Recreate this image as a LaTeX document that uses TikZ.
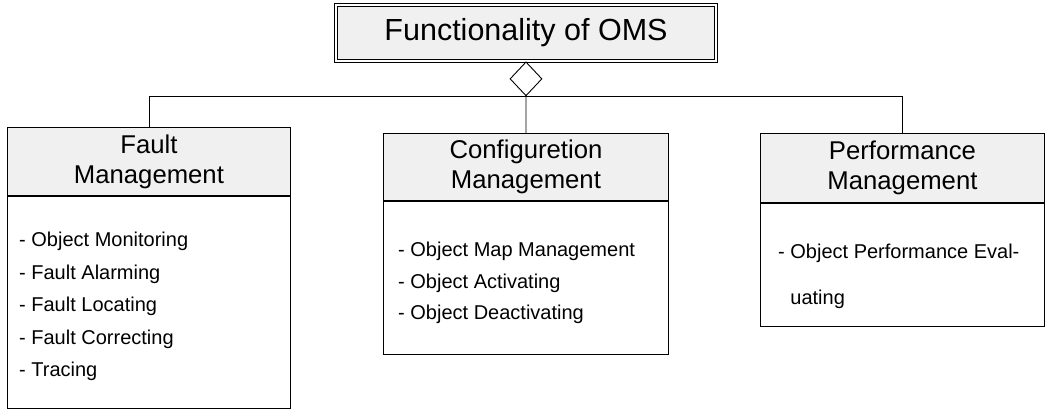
\documentclass[tikz,border=0pt]{standalone}
\usepackage{fontspec}
\setmainfont{Liberation Sans}
\usetikzlibrary{positioning,shapes.geometric}
\tikzset{
  ttlbox/.style={draw,double,double distance=2.2pt,line width=0.8pt,fill=black!6,
    minimum width=380pt,minimum height=56pt,inner sep=0pt,
    font=\fontsize{30.5}{34}\selectfont},
  hdbox/.style={draw,line width=0.9pt,fill=black!6,anchor=north west,align=center,
    inner sep=0pt,font=\fontsize{25.7}{30}\selectfont},
  bdbox/.style={draw,line width=0.9pt,fill=white,anchor=north west,inner sep=0pt},
  itemtxt/.style={anchor=north west,align=left,inner sep=0pt},
  aggr/.style={diamond,draw,line width=0.9pt,fill=white,inner sep=0pt,
    minimum width=32pt,minimum height=34pt},
  link/.style={line width=0.9pt},
}
\begin{document}
\begin{tikzpicture}[x=1pt,y=-1pt]
  \useasboundingbox (0,0) rectangle (1045,409);
  \node[ttlbox] (oms) at (526,33) {Functionality of OMS};
  \node[aggr,anchor=north] (agg) at (oms.south) {};
  % three functional areas
  \node[hdbox,minimum width=283pt,minimum height=68pt] (fhead) at (7,127)
    {Fault\\Management};
  \node[bdbox,minimum width=283pt,minimum height=212pt] (fbody) at (fhead.south west) {};
  \node[hdbox,minimum width=285pt,minimum height=67pt] (chead) at (383,133)
    {Configuretion\\Management};
  \node[bdbox,minimum width=285pt,minimum height=153pt] (cbody) at (chead.south west) {};
  \node[hdbox,minimum width=284pt,minimum height=69pt] (phead) at (760,133)
    {Performance\\Management};
  \node[bdbox,minimum width=284pt,minimum height=123pt] (pbody) at (phead.south west) {};
  \draw[link] (agg.south) -| (fhead.north);
  \draw[link] (agg.south) -| (phead.north);
  \draw[link] (agg.south) -- (chead.north);
  % item lists
  \node[itemtxt,font=\fontsize{20}{32.5}\selectfont] (flist)
    at ([xshift=12pt,yshift=-36pt]fbody.north west)
    {- Object Monitoring\\- Fault Alarming\\- Fault Locating\\- Fault Correcting\\- Tracing};
  \node[itemtxt,font=\fontsize{20}{31.5}\selectfont] (clist)
    at ([xshift=15pt,yshift=-41pt]cbody.north west)
    {- Object Map Management\\- Object Activating\\- Object Deactivating};
  \node[itemtxt,font=\fontsize{20}{46}\selectfont] (plist)
    at ([xshift=18pt,yshift=-41pt]pbody.north west)
    {- Object Performance Eval-\\\phantom{- }uating};
\end{tikzpicture}
\end{document}
